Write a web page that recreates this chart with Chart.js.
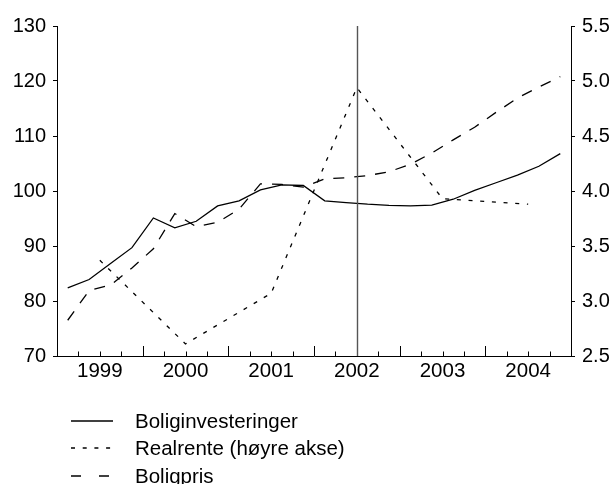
<!doctype html>
<html lang="no">
<head>
<meta charset="utf-8">
<title>Boliginvesteringer, realrente og boligpris</title>
<script src="https://cdn.jsdelivr.net/npm/chart.js@4"></script>
<style>
  body { margin: 0; background: #fff; font-family: "Liberation Sans", Arial, sans-serif; }
  #wrap { position: relative; width: 614px; height: 484px; overflow: hidden; }
  #legend { position: absolute; left: 71px; top: 407px; font-size: 20.5px; color: #000; }
  .row { display: flex; align-items: center; height: 27.5px; white-space: nowrap; }
  .row svg { width: 43px; height: 10px; margin-right: 21px; flex: none; }
</style>
</head>
<body>
<div id="wrap">
  <canvas id="chart" width="614" height="484"></canvas>
  <div id="legend">
    <div class="row"><svg><line x1="0" y1="5" x2="42" y2="5" stroke="#000" stroke-width="1.3"/></svg>Boliginvesteringer</div>
    <div class="row"><svg><line x1="0" y1="5" x2="42" y2="5" stroke="#000" stroke-width="1.3" stroke-dasharray="4 7.7"/></svg>Realrente (høyre akse)</div>
    <div class="row"><svg><line x1="0" y1="5" x2="42" y2="5" stroke="#000" stroke-width="1.3" stroke-dasharray="10 18"/></svg>Boligpris</div>
  </div>
</div>
<script>
  // Years on the x axis, one label per year, four quarters each
  var years = ['1999', '2000', '2001', '2002', '2003', '2004'];
  var quarters = [];
  years.forEach(function(y) { for (var q = 1; q <= 4; q++) quarters.push(y + 'K' + q); });

  // Quarterly index series (left axis)
  var boliginvesteringer = [82.4, 83.9, 86.8, 89.7, 95.1, 93.3, 94.5, 97.3,
                            98.2, 100.2, 101.1, 101.0, 98.2, 97.9, 97.6, 97.4,
                            97.3, 97.45, 98.5, 100.1, 101.5, 102.9, 104.5, 106.8];
  var boligpris = [76.5, 81.9, 82.9, 86.0, 89.5, 95.9, 93.5, 94.3,
                   96.7, 101.3, 101.2, 100.7, 102.2, 102.4, 102.8, 103.5,
                   104.85, 106.9, 109.3, 111.6, 114.3, 116.9, 118.9, 120.8];

  // Yearly real interest rate (right axis), placed mid-year
  var realrente = [3.37, 2.61, 3.07, 4.94, 3.93, 3.88];

  var markerYear = '2002';

  var quarterPoints = function(arr) {
    return arr.map(function(v, i) { return { x: i + 0.5, y: v }; });
  };
  var yearPoints = function(arr) {
    return arr.map(function(v, i) { return { x: 4 * i + 2, y: v }; });
  };

  var fontY = { family: '"Liberation Sans", Arial, sans-serif', size: 20 };
  var fontX = { family: '"Liberation Sans", Arial, sans-serif', size: 20.5 };

  // Short quarter ticks pointing up into the plot, longer at year changes,
  // plus the vertical line at the marker year
  var axisDecor = {
    id: 'axisDecor',
    afterDatasetsDraw: function(chart) {
      var ctx = chart.ctx;
      var xs = chart.scales.x;
      var area = chart.chartArea;
      ctx.save();
      ctx.strokeStyle = '#000';
      ctx.lineWidth = 1;
      for (var i = 1; i < quarters.length; i++) {
        var px = Math.round(xs.getPixelForValue(i)) + 0.5;
        var len = (i % 4 === 0) ? 10 : 4.5;
        ctx.beginPath();
        ctx.moveTo(px, area.bottom);
        ctx.lineTo(px, area.bottom - len);
        ctx.stroke();
      }
      var m = years.indexOf(markerYear);
      var mx = Math.round(xs.getPixelForValue(4 * m + 2)) + 0.5;
      ctx.strokeStyle = '#555';
      ctx.lineWidth = 1.4;
      ctx.beginPath();
      ctx.moveTo(mx, area.top);
      ctx.lineTo(mx, area.bottom);
      ctx.stroke();
      ctx.restore();
    }
  };

  new Chart(document.getElementById('chart'), {
    type: 'line',
    data: {
      datasets: [{
        label: 'Boliginvesteringer',
        data: quarterPoints(boliginvesteringer),
        yAxisID: 'y',
        borderColor: '#000',
        borderWidth: 1.3,
        pointRadius: 0,
        tension: 0
      }, {
        label: 'Realrente (høyre akse)',
        data: yearPoints(realrente),
        yAxisID: 'y2',
        borderColor: '#000',
        borderWidth: 1.3,
        borderDash: [4, 7.7],
        pointRadius: 0,
        tension: 0
      }, {
        label: 'Boligpris',
        data: quarterPoints(boligpris),
        yAxisID: 'y',
        borderColor: '#000',
        borderWidth: 1.3,
        borderDash: [11, 10],
        pointRadius: 0,
        tension: 0
      }]
    },
    options: {
      responsive: false,
      animation: false,
      layout: { padding: { top: 26, left: 0, right: 0, bottom: 0 } },
      plugins: {
        legend: { display: false },
        tooltip: { enabled: false }
      },
      scales: {
        x: {
          type: 'linear',
          min: 0,
          max: quarters.length,
          grid: { display: true, drawOnChartArea: false, drawTicks: false },
          border: { display: true, color: '#000', width: 1 },
          afterBuildTicks: function(scale) {
            scale.ticks = years.map(function(y, i) { return { value: 4 * i + 2 }; });
          },
          ticks: {
            color: '#000',
            font: fontX,
            padding: 3,
            maxRotation: 0,
            autoSkip: false,
            callback: function(value, index) { return years[index]; }
          },
          afterFit: function(scale) { scale.height = 128; }
        },
        y: {
          position: 'left',
          min: 70,
          max: 130,
          grid: { drawOnChartArea: false, drawTicks: true, tickLength: 4, color: '#000' },
          border: { display: true, color: '#000', width: 1 },
          ticks: { stepSize: 10, color: '#000', font: fontY, padding: 7 },
          afterFit: function(scale) { scale.width = 57; }
        },
        y2: {
          position: 'right',
          min: 2.5,
          max: 5.5,
          grid: { drawOnChartArea: false, drawTicks: true, tickLength: 4, color: '#000' },
          border: { display: true, color: '#000', width: 1 },
          ticks: {
            stepSize: 0.5, color: '#000', font: fontY, padding: 7,
            callback: function(v) { return v.toFixed(1); }
          },
          afterFit: function(scale) { scale.width = 43; }
        }
      }
    },
    plugins: [axisDecor]
  });
</script>
</body>
</html>
